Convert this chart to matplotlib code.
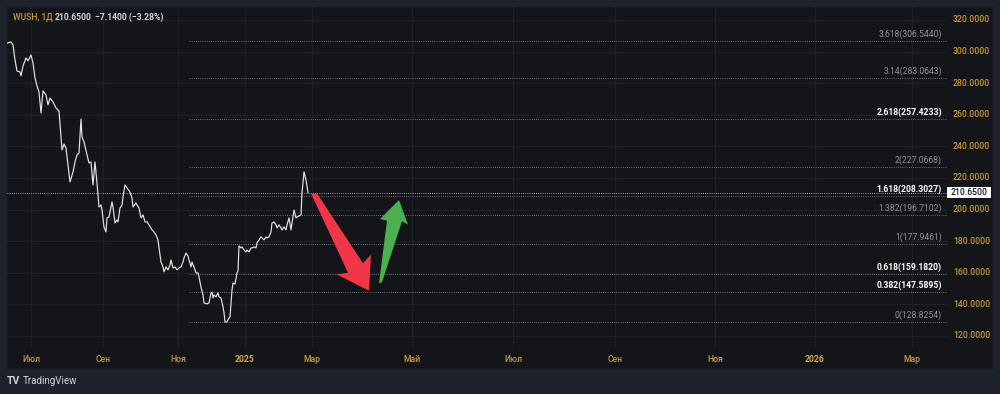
import matplotlib
matplotlib.use("Agg")
import matplotlib.pyplot as plt
import matplotlib.transforms as mtransforms
from matplotlib.patches import Rectangle, Polygon

plt.rcParams['font.family'] = ['Roboto', 'DejaVu Sans']

# daily close of WUSH (t = session index, p = price, RUB)
t_a = [0.5, 4, 6, 8, 10, 13, 14, 16, 19, 21, 24, 26, 28, 30, 32, 34, 36, 39, 41, 43,
       46, 49, 52, 55, 57, 59, 61]
p_a = [305.4, 306.1, 304.2, 294.7, 287.7, 287.1, 284.6, 290.9, 296.0, 294.1, 297.8, 292.8,
       283.3, 278.2, 274.4, 261.1, 275.1, 272.5, 266.2, 270.6, 268.1, 264.3, 262.4, 237.7,
       241.5, 239.0, 228.2]
t_b = [63, 66, 68, 70, 72, 74, 75, 77, 80, 82, 84, 86, 88, 90, 92, 94, 95, 97, 99, 100,
       102, 105, 106, 108, 110, 111, 113, 115, 116, 118, 120, 123, 125, 126, 129, 130, 132,
       134, 136, 138, 140, 142, 145, 147, 149, 151, 152]
p_b = [217.5, 223.8, 230.1, 234.6, 235.8, 257.3, 245.9, 242.8, 234.6, 229.5, 230.1, 215.6,
       230.1, 216.8, 201.6, 202.9, 199.7, 189.0, 185.8, 194.7, 195.3, 204.8, 201.6, 191.5,
       193.4, 192.2, 201.0, 202.9, 208.0, 215.6, 213.7, 211.1, 207.3, 201.6, 204.2, 202.9,
       201.0, 194.7, 196.6, 192.2, 192.2, 190.3, 187.1, 185.8, 183.9, 180.8, 175.7]
t_c = [154, 156, 157, 159, 161, 163, 164, 166, 168, 170, 172, 174, 176, 177, 179, 181, 182,
       184, 185, 187, 189, 191, 192, 194, 196, 197, 200, 202, 204, 205, 206, 207, 209, 211,
       212, 214, 216, 217, 218, 220, 222, 223, 225, 226, 228, 230, 231]
p_c = [166.8, 163.7, 160.5, 163.7, 161.8, 164.9, 168.1, 163.0, 163.7, 161.8, 163.0, 163.7,
       166.8, 169.4, 172.5, 170.6, 168.1, 163.7, 166.8, 163.7, 159.9, 159.9, 157.3, 151.0,
       146.0, 140.9, 140.3, 140.9, 147.2, 147.8, 144.1, 146.0, 144.7, 147.2, 144.7, 144.1,
       138.4, 134.6, 128.9, 128.9, 131.4, 132.0, 149.1, 153.5, 152.8, 159.9, 161.1]
t_d = [232, 234, 235, 237, 239, 240, 242, 244, 245, 247, 249, 250, 252, 254, 255, 257, 259,
       260, 262, 264, 265, 267, 269, 270, 272, 274, 275, 277, 279, 280, 282, 284, 285, 287,
       289, 290, 292, 294, 295, 297, 299, 301]
p_d = [177.0, 175.7, 176.3, 174.4, 173.2, 174.4, 173.2, 175.7, 175.7, 176.3, 175.7, 178.9,
       180.8, 182.7, 182.0, 180.8, 182.7, 182.0, 182.7, 185.8, 191.5, 192.2, 190.3, 188.4,
       190.3, 188.4, 187.1, 189.0, 187.1, 190.3, 194.7, 187.1, 191.5, 199.7, 194.7, 195.3,
       195.9, 196.6, 210.5, 223.8, 218.7, 210.65]

t = t_a + t_b + t_c + t_d
price = p_a + p_b + p_c + p_d
last_price = 210.65

# Fibonacci extension levels
fib_ratio = ["3.618", "3.14", "2.618", "2", "1.618", "1.382", "1", "0.618", "0.382", "0"]
fib_price = [306.5440, 283.0643, 257.4233, 227.0668, 208.3027, 196.7102, 177.9461,
             159.1820, 147.5895, 128.8254]
fib_bold = [False, False, True, False, True, False, False, True, True, False]
fib_start = 182

# axes
price_ticks = [120, 140, 160, 180, 200, 220, 240, 260, 280, 300, 320]
month_pos = [24, 96, 171, 238, 305, 405, 506, 608, 708, 808, 905]
month_lbl = ["Июл", "Сен", "Ноя", "2025", "Мар", "Май", "Июл", "Сен", "Ноя", "2026", "Мар"]

# hand-drawn arrows (session index, price)
red_arrow = [(304, 210.2), (341, 160.0), (330, 158.9), (362, 148.6), (364, 171.5),
             (356, 166.0), (310, 210.2)]
green_arrow = [(372, 153.3), (380, 193.0), (373, 194.0), (392, 206.0), (401, 190.5),
               (395, 192.6), (375, 154.0)]

GOLD = "#c99a38"
TXT = "#d1d4dc"
FS = 6.2
W, H = 1000, 394

fig = plt.figure(figsize=(10, 3.94), dpi=100, facecolor="#1e222d")
fig.patches.append(Rectangle((7 / W, 1 - 369 / H), 986 / W, 362 / H, transform=fig.transFigure,
                             facecolor="#131519", edgecolor="none", zorder=-10))

ax = fig.add_axes([7 / W, 1 - 347 / H, 940 / W, 340 / H])
ax.set_facecolor("none")
ax.set_xlim(0, 940)
ax.set_ylim(113.0, 328.2)
for s in ax.spines.values():
    s.set_visible(False)
ax.set_xticks([])
ax.set_yticks([])

# grid
for x in month_pos:
    ax.axvline(x, color="#1e2127", lw=0.9, zorder=1)
for y in price_ticks:
    ax.axhline(y, color="#1e2127", lw=0.9, zorder=1)

blend_y = mtransforms.blended_transform_factory(ax.transAxes, ax.transData)
blend_x = mtransforms.blended_transform_factory(ax.transData, ax.transAxes)

# fib levels
for r, lv, b in zip(fib_ratio, fib_price, fib_bold):
    ax.hlines(lv, fib_start, 940, colors="#8a8d93", linestyles=(0, (1, 1.6)), lw=0.6, zorder=2)
    ax.annotate(f"{r}({lv:.4f})", xy=(0.9947, lv), xycoords=blend_y, xytext=(0, 5),
                textcoords="offset points", ha="right", va="center", fontsize=FS,
                color="#ffffff" if b else "#8f929a", fontweight="bold" if b else "normal")

# current price line
ax.axhline(last_price, color="#d0d0d0", ls=(0, (1, 1.6)), lw=0.6, zorder=2)

# price series
ax.plot(t, price, color="#e4e4e4", lw=0.85, zorder=4)

# arrows
ax.add_patch(Polygon(red_arrow, closed=True, fc="#f23645", ec="none", zorder=5))
ax.add_patch(Polygon(green_arrow, closed=True, fc="#4caf50", ec="none", zorder=5))

# price axis labels
for y in price_ticks:
    ax.text(1.0062, y, f"{y:.4f}", transform=blend_y, ha="left", va="center",
            fontsize=FS, color=GOLD, fontweight="medium", clip_on=False)
ax.add_patch(Rectangle((1.0, last_price - 3.6), 0.0468, 7.2, transform=blend_y,
                       fc="#ffffff", ec="none", clip_on=False, zorder=6))
ax.text(1.0234, last_price, f"{last_price:.4f}", transform=blend_y, ha="center", va="center",
        fontsize=FS, color="#131722", fontweight="medium", clip_on=False, zorder=7)

# time axis labels
for x, lb in zip(month_pos, month_lbl):
    is_year = lb.isdigit()
    ax.text(x, -0.038, lb, transform=blend_x, ha="center", va="center", fontsize=FS,
            color="#d8a84a" if is_year else GOLD, fontweight="bold" if is_year else "medium",
            clip_on=False)

# header
hy = 1 - 17 / H
fig.text(13 / W, hy, "WUSH, 1Д", color=GOLD, fontsize=FS, va="center", fontweight="medium")
fig.text(55 / W, hy, "210.6500", color=TXT, fontsize=FS, va="center", fontweight="bold")
fig.text(95 / W, hy, "−7.1400 (−3.28%)", color=TXT, fontsize=FS, va="center", fontweight="bold")

# TradingView logo
fig.text(7 / W, 1 - 381 / H, "TV", color=TXT, fontsize=7.5, va="center", fontweight="bold")
fig.text(23 / W, 1 - 381 / H, "TradingView", color=TXT, fontsize=7, va="center")

fig.savefig("out.png", dpi=100, facecolor=fig.get_facecolor())
